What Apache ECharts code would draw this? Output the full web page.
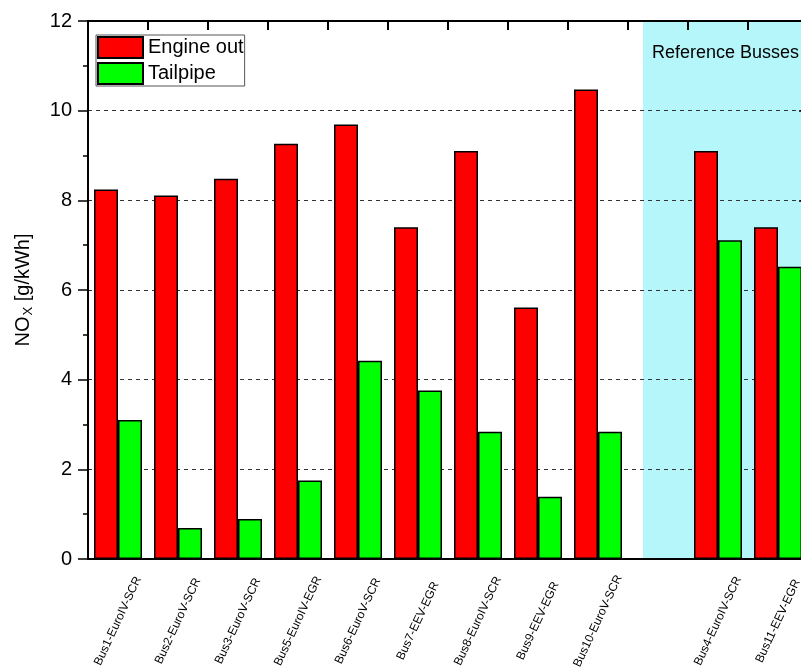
<!DOCTYPE html>
<html>
<head>
<meta charset="utf-8">
<script src="https://cdn.jsdelivr.net/npm/echarts@6/dist/echarts.min.js"></script>
<style>
  html, body { margin: 0; padding: 0; background: #fff; }
  #chart { width: 801px; height: 672px; }
</style>
</head>
<body>
<div id="chart"></div>
<script>
// bus names, '' is the spacer slot before the reference busses
var categories = ['Bus1-EuroIV-SCR', 'Bus2-EuroV-SCR', 'Bus3-EuroV-SCR', 'Bus5-EuroIV-EGR',
  'Bus6-EuroV-SCR', 'Bus7-EEV-EGR', 'Bus8-EuroIV-SCR', 'Bus9-EEV-EGR', 'Bus10-EuroV-SCR',
  '', 'Bus4-EuroIV-SCR', 'Bus11-EEV-EGR'];
var engineOut = [8.24, 8.11, 8.48, 9.26, 9.69, 7.40, 9.10, 5.61, 10.47, null, 9.10, 7.40];
var tailpipe = [3.10, 0.69, 0.89, 1.75, 4.42, 3.76, 2.84, 1.39, 2.84, null, 7.11, 6.52];
var yTicks = [0, 12, 2];          // min, max, step
var refArea = [9.25, 12];         // shaded span in category units
var refLabel = 'Reference Busses';

var font = 'Liberation Sans, Arial, sans-serif';
var gridTop = 21, gridBottom = 113, chartH = 672;

var myChart = echarts.init(document.getElementById('chart'));

var option = {
  animation: false,
  backgroundColor: '#fff',
  textStyle: { fontFamily: font, color: '#000' },
  grid: { left: 88, top: gridTop, width: 720, bottom: gridBottom, outerBoundsMode: 'none', containLabel: false },
  legend: {
    left: 96,
    top: 35,
    orient: 'vertical',
    data: ['Engine out', 'Tailpipe'],
    icon: 'rect',
    itemWidth: 45,
    itemHeight: 21,
    itemGap: 3,
    padding: [1, 1, 1, 1],
    borderColor: '#555',
    borderWidth: 1,
    backgroundColor: '#fff',
    textStyle: { fontSize: 20, color: '#000', fontFamily: font },
    z: 10
  },
  xAxis: [{
    type: 'category',
    data: categories,
    position: 'bottom',
    axisLine: { onZero: false, lineStyle: { color: '#000', width: 2 } },
    axisTick: { show: false },
    axisLabel: {
      interval: 0,
      rotate: 65,
      align: 'center',
      verticalAlign: 'middle',
      margin: 62,
      fontSize: 12,
      color: '#000',
      fontFamily: font
    },
    z: 2
  }, {
    // top frame in category units (moved up to the grid top so its ticks point down),
    // also carries the shaded region
    type: 'value',
    position: 'bottom',
    offset: -(chartH - gridTop - gridBottom),
    min: 0,
    max: categories.length,
    interval: 1,
    axisLine: { show: true, onZero: false, lineStyle: { color: '#000', width: 2 } },
    axisTick: { show: true, inside: false, length: 9, lineStyle: { color: '#000', width: 2 } },
    axisLabel: { show: true, color: 'rgba(0,0,0,0)', fontSize: 8 },
    splitLine: { show: false },
    z: 4
  }],
  yAxis: [{
    type: 'value',
    min: yTicks[0],
    max: yTicks[1],
    interval: yTicks[2],
    name: '{a|NO}{sub|X}{a| [g/kWh]}',
    nameLocation: 'middle',
    nameGap: 53,
    nameTextStyle: {
      rich: {
        a: { fontSize: 20, fontFamily: font, color: '#000', lineHeight: 24 },
        sub: { fontSize: 13, fontFamily: font, color: '#000', verticalAlign: 'bottom', padding: [10, 0, 0, 1] }
      }
    },
    axisLine: { show: true, onZero: false, lineStyle: { color: '#000', width: 2 } },
    axisTick: { show: true, length: 10, lineStyle: { color: '#000', width: 1.5 } },
    minorTick: { show: true, splitNumber: 2, length: 5, lineStyle: { color: '#000', width: 1.5 } },
    axisLabel: { fontSize: 20, color: '#000', margin: 16, fontFamily: font },
    splitLine: { show: true, lineStyle: { color: '#333', width: 1, type: [4, 4] } },
    z: 2
  }, {
    type: 'value',
    min: yTicks[0],
    max: yTicks[1],
    interval: yTicks[2],
    position: 'right',
    axisLine: { show: true, onZero: false, lineStyle: { color: '#000', width: 2 } },
    axisTick: { show: true, inside: true, length: 9, lineStyle: { color: '#000', width: 1.5 } },
    minorTick: { show: true, splitNumber: 2, length: 5, lineStyle: { color: '#000', width: 1.5 } },
    axisLabel: { show: false },
    splitLine: { show: false },
    z: 2
  }],
  series: [{
    name: 'ref',
    type: 'line',
    xAxisIndex: 1,
    yAxisIndex: 0,
    data: [],
    z: 1,
    silent: true,
    markArea: {
      silent: true,
      itemStyle: { color: '#b4f6fa' },
      label: {
        show: true,
        position: 'insideTop',
        distance: 23,
        fontSize: 18,
        color: '#000',
        fontFamily: font
      },
      data: [[{ name: refLabel, xAxis: refArea[0] }, { xAxis: refArea[1] }]]
    }
  }, {
    name: 'Engine out',
    type: 'bar',
    data: engineOut,
    barWidth: 24,
    barGap: '0%',
    z: 3,
    itemStyle: { color: '#ff0000', borderColor: '#000', borderWidth: 1.5 }
  }, {
    name: 'Tailpipe',
    type: 'bar',
    data: tailpipe,
    barWidth: 24,
    barGap: '0%',
    z: 3,
    itemStyle: { color: '#00ff00', borderColor: '#000', borderWidth: 1.5 }
  }]
};

myChart.setOption(option);
</script>
</body>
</html>
